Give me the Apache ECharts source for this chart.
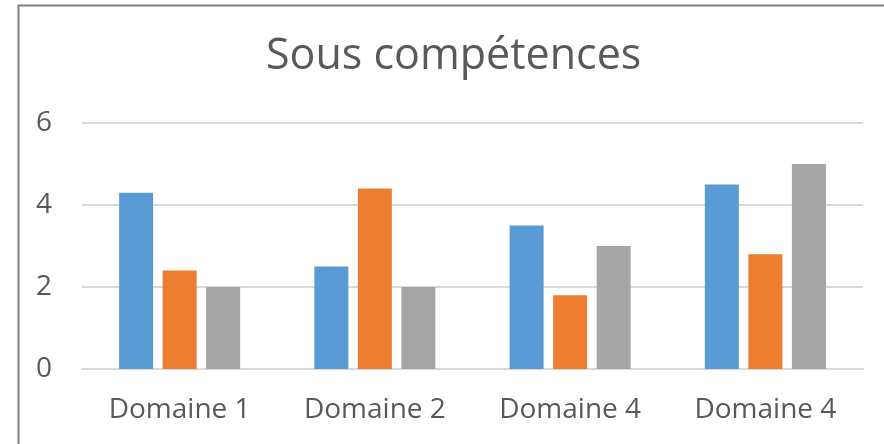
<!DOCTYPE html>
<html>
<head>
<meta charset="utf-8">
<script src="https://cdn.jsdelivr.net/npm/echarts@6/dist/echarts.min.js"></script>
<style>
html,body{margin:0;padding:0;background:#fff;}
#chart{width:884px;height:444px;}
</style>
</head>
<body>
<div id="chart"></div>
<script>
const titleText = "Sous compétences";
const categories = ["Domaine 1", "Domaine 2", "Domaine 4", "Domaine 4"];
const series1 = [4.3, 2.5, 3.5, 4.5];
const series2 = [2.4, 4.4, 1.8, 2.8];
const series3 = [2, 2, 3, 5];
const yTicks = [0, 2, 4, 6];

const chart = echarts.init(document.getElementById('chart'), null, {renderer: 'canvas'});
const font = '"Open Sans", sans-serif';
const mk = (data, color) => ({
  type: 'bar', data: data, barWidth: 34, barGap: '28%',
  itemStyle: {color: color}, animation: false
});
chart.setOption({
  animation: false,
  backgroundColor: '#fff',
  title: {
    text: titleText, left: 266, top: 35,
    padding: 0,
    textStyle: {fontFamily: font, fontSize: 43, fontWeight: 'normal', color: '#595959'}
  },
  graphic: [{
    type: 'rect', shape: {x: 18.5, y: 5.5, width: 900, height: 500},
    style: {fill: null, stroke: '#7f7f7f', lineWidth: 2}, silent: true
  }],
  grid: {left: 82, right: 21, top: 123, bottom: 75, containLabel: false},
  xAxis: {
    type: 'category', data: categories,
    axisLine: {show: true, lineStyle: {color: '#d9d9d9', width: 2}},
    axisTick: {show: false},
    axisLabel: {fontFamily: font, fontSize: 28, color: '#595959', margin: 27}
  },
  yAxis: {
    type: 'value', min: yTicks[0], max: yTicks[yTicks.length - 1], interval: 2,
    axisLine: {show: false}, axisTick: {show: false},
    splitLine: {lineStyle: {color: '#d9d9d9', width: 2}},
    axisLabel: {fontFamily: font, fontSize: 28, color: '#595959', margin: 30}
  },
  series: [mk(series1, '#5B9BD5'), mk(series2, '#ED7D31'), mk(series3, '#A5A5A5')]
});
</script>
</body>
</html>
